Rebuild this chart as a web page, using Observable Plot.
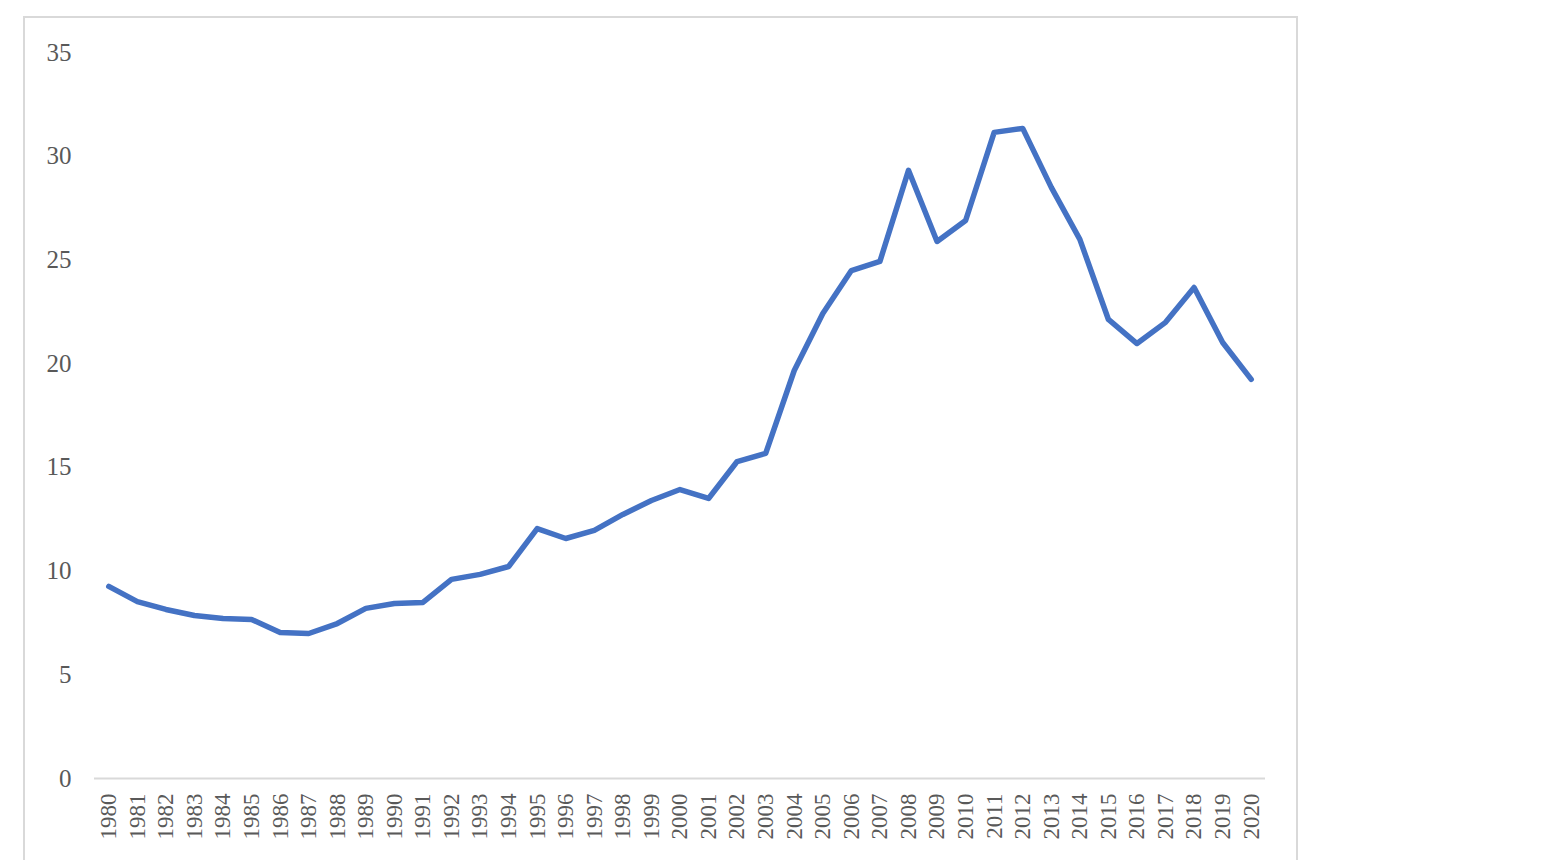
<!DOCTYPE html>
<html>
<head>
<meta charset="utf-8">
<script src="https://cdn.jsdelivr.net/npm/d3@7"></script>
<script src="https://cdn.jsdelivr.net/npm/@observablehq/plot@0.6"></script>
<style>
  html, body { margin: 0; padding: 0; background: #fff; }
  #wrap { position: relative; width: 1544px; height: 860px; overflow: hidden; }
  #border { position: absolute; left: 23px; top: 16px; width: 1271px; height: 842px; border: 2px solid #d9d9d9; box-sizing: content-box; }
  #chart { position: absolute; left: 0; top: 0; }
</style>
</head>
<body>
<div id="wrap">
  <div id="border"></div>
  <div id="chart"></div>
</div>
<script>
const years = d3.range(1980, 2021).map(String);
const values = [
  9.26, 8.53, 8.15, 7.86, 7.71, 7.67, 7.04, 6.99, 7.47, 8.20,
  8.44, 8.49, 9.60, 9.84, 10.22, 12.05, 11.57, 11.96, 12.73, 13.40,
  13.93, 13.50, 15.28, 15.67, 19.67, 22.42, 24.49, 24.93, 29.32, 25.89,
  26.90, 31.15, 31.34, 28.50, 25.99, 22.13, 20.97, 21.99, 23.67, 21.02,
  19.24
];
const yTicks = [0, 5, 10, 15, 20, 25, 30, 35];

const data = years.map((y, i) => ({year: y, value: values[i]}));

const chart = Plot.plot({
  width: 1544,
  height: 860,
  marginLeft: 94,
  marginRight: 279,
  marginTop: 52,
  marginBottom: 82,
  style: {
    fontFamily: "'Liberation Serif', 'Times New Roman', serif",
    color: "#595959",
    background: "transparent",
    overflow: "visible"
  },
  x: {type: "point", domain: years, padding: 0.5, round: false, label: null},
  y: {domain: [0, 35], label: null},
  marks: [
    Plot.axisY({ticks: yTicks, tickSize: 0, tickPadding: 23, fontSize: 25, label: null, fill: "#595959"}),
    Plot.axisX({tickSize: 0, tickPadding: 15, tickRotate: -90, fontSize: 23, label: null, fill: "#595959"}),
    Plot.ruleY([0], {stroke: "#d9d9d9", strokeWidth: 2}),
    Plot.line(data, {x: "year", y: "value", stroke: "#4472C4", strokeWidth: 5.5, strokeLinejoin: "round", strokeLinecap: "round"})
  ]
});
document.getElementById("chart").appendChild(chart);
</script>
</body>
</html>
